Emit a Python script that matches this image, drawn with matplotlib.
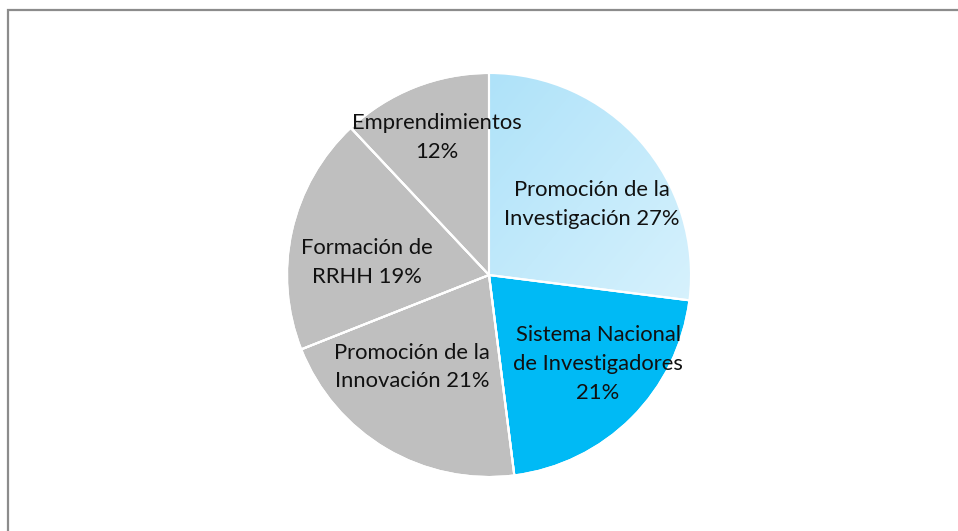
import numpy as np
import matplotlib
matplotlib.use("Agg")
import matplotlib.pyplot as plt
from matplotlib.patches import Rectangle, Wedge
from matplotlib.colors import LinearSegmentedColormap

# ---- data ----
categories = ["Promoción de la\nInvestigación", "Sistema Nacional\nde Investigadores",
              "Promoción de la\nInnovación", "Formación de\nRRHH", "Emprendimientos"]
values = [27, 21, 21, 19, 12]
label_texts = ["Promoción de la\nInvestigación 27%", "Sistema Nacional\nde Investigadores\n21%",
               "Promoción de la\nInnovación 21%", "Formación de\nRRHH 19%", "Emprendimientos\n12%"]

# ---- style ----
colors = ["#BDE8FB", "#00BAF5", "#BFBFBF", "#BFBFBF", "#BFBFBF"]
# label positions (in units of pie radius)
label_pos = [(0.51, 0.35), (0.54, -0.44), (-0.38, -0.455), (-0.605, 0.06), (-0.26, 0.68)]

W, H, DPI = 958, 531, 100
fig = plt.figure(figsize=(W / DPI, H / DPI), dpi=DPI)
fig.patch.set_facecolor("white")

cx, cy, r = 489, 275, 202
ax = fig.add_axes([(cx - r) / W, (H - cy - r) / H, 2 * r / W, 2 * r / H])
ax.axis("off")

wedges, _ = ax.pie(values, colors=colors, startangle=90, counterclock=False, radius=1,
                   wedgeprops=dict(edgecolor="white", linewidth=1.5), frame=False)
ax.set_xlim(-1, 1)
ax.set_ylim(-1, 1)

# gradient fill on the first wedge
cmap = LinearSegmentedColormap.from_list("lb", ["#AEE2F9", "#D8F2FD"])
gx, gy = np.meshgrid(np.linspace(0, 1, 300), np.linspace(0, 1, 300))
grad = (gx + gy) / 2.0
im = ax.imshow(grad, cmap=cmap, extent=(0, 1.02, -0.2, 1.02), origin="upper",
               interpolation="bilinear", zorder=1.5)
im.set_clip_path(wedges[0])
for w in wedges:
    w.set_zorder(1)
# white separators above the gradient
for w in wedges:
    ax.add_patch(Wedge(w.center, w.r, w.theta1, w.theta2, facecolor="none",
                       edgecolor="white", linewidth=1.5, zorder=2))

for txt, (x, y) in zip(label_texts, label_pos):
    ax.text(x, y, txt, ha="center", va="center", fontsize=15.8, family="Lato",
            color="#111111", linespacing=1.55, zorder=3)

# chart border (extends past the right and bottom edges)
border = Rectangle((8 / W, -0.05), 1.1, (H - 10) / H + 0.05, transform=fig.transFigure,
                   facecolor="none", edgecolor="#8C8C8C", linewidth=1.6, clip_on=False)
fig.add_artist(border)

fig.savefig("out.png", dpi=DPI, facecolor="white")
